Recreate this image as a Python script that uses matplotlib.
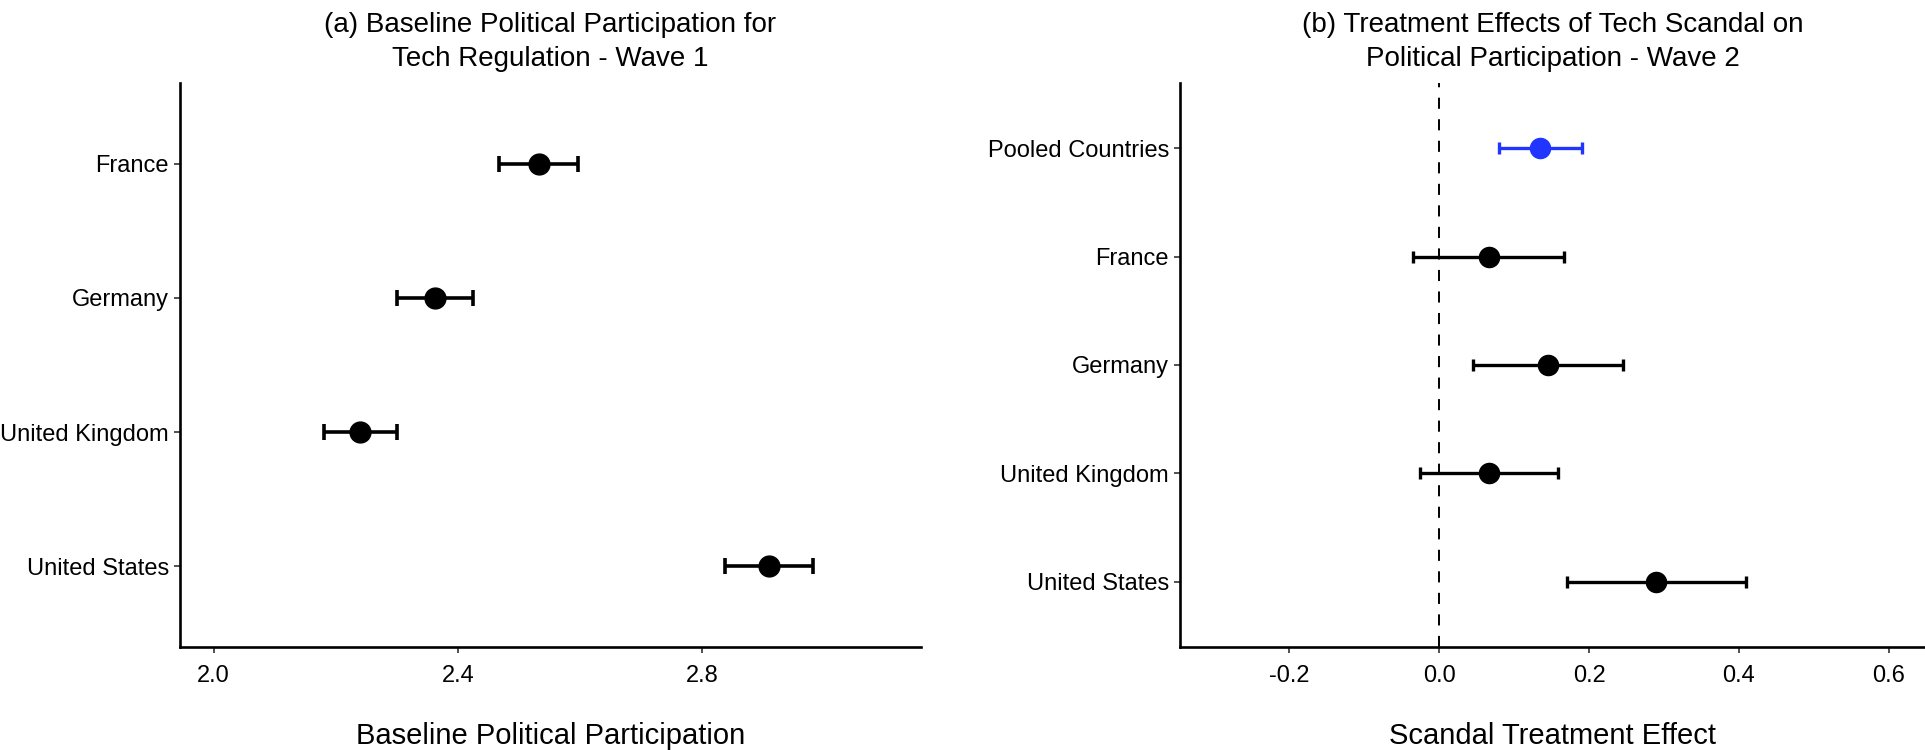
import numpy as np
import matplotlib
matplotlib.use("Agg")
import matplotlib.pyplot as plt

plt.rcParams['font.family'] = ['Liberation Sans', 'DejaVu Sans']
plt.rcParams['lines.scale_dashes'] = False

# panel (a): baseline participation, wave 1
countries_a = ["United States", "United Kingdom", "Germany", "France"]
base_est = [2.909, 2.240, 2.362, 2.532]
base_lo = [2.837, 2.180, 2.301, 2.468]
base_hi = [2.982, 2.300, 2.424, 2.596]

# panel (b): treatment effects, wave 2
countries_b = ["United States", "United Kingdom", "Germany", "France", "Pooled Countries"]
eff_est = [0.289, 0.066, 0.145, 0.066, 0.135]
eff_lo = [0.170, -0.026, 0.045, -0.035, 0.080]
eff_hi = [0.410, 0.159, 0.245, 0.167, 0.190]

blue = "#2035FF"

W, H = 1925, 750
fig = plt.figure(figsize=(W / 100, H / 100), dpi=100)
ax1 = fig.add_axes([180 / W, 1 - 647 / H, (921 - 180) / W, (647 - 83) / H])
ax2 = fig.add_axes([1180 / W, 1 - 647 / H, (1925 - 1180) / W, (647 - 83) / H])


def style(ax):
    for s in ["top", "right"]:
        ax.spines[s].set_visible(False)
    for s in ["left", "bottom"]:
        ax.spines[s].set_linewidth(1.9)
        ax.spines[s].set_color("black")
    ax.tick_params(axis="both", length=4, width=1.2, color="#333333",
                   labelsize=17, labelcolor="black")
    ax.tick_params(axis="x", pad=9)
    ax.tick_params(axis="y", pad=4)


# left panel
y1 = np.arange(1, len(countries_a) + 1)
est = np.array(base_est)
ax1.errorbar(est, y1, xerr=[est - np.array(base_lo), np.array(base_hi) - est],
             fmt="o", color="black", ms=15, elinewidth=2.6, capsize=5.6,
             capthick=2.6)
ax1.set_yticks(y1)
ax1.set_yticklabels(countries_a)
ax1.set_ylim(0.4, len(countries_a) + 0.6)
ax1.set_xlim(1.945, 3.158)
ax1.set_xticks([2.0, 2.4, 2.8])
ax1.set_xticklabels(["2.0", "2.4", "2.8"])
style(ax1)
ax1.set_xlabel("Baseline Political Participation", fontsize=21, labelpad=25)
ax1.set_title("(a) Baseline Political Participation for\nTech Regulation - Wave 1",
              fontsize=20, linespacing=1.42, pad=12)

# right panel
y2 = np.arange(1, len(countries_b) + 1)
est2 = np.array(eff_est)
err = [est2 - np.array(eff_lo), np.array(eff_hi) - est2]
ax2.axvline(0, color="black", lw=1.4, dashes=(8, 7.5), zorder=1)
for i in range(len(countries_b)):
    c = blue if countries_b[i] == "Pooled Countries" else "black"
    ax2.errorbar(est2[i], y2[i], xerr=[[err[0][i]], [err[1][i]]], fmt="o",
                 color=c, ms=14.5, elinewidth=2.4, capsize=4.6, capthick=2.4,
                 zorder=3)
ax2.set_yticks(y2)
ax2.set_yticklabels(countries_b)
ax2.get_yticklabels()[-1].set_color(blue)
ax2.set_ylim(0.4, len(countries_b) + 0.6)
ax2.set_xlim(-0.346, 0.6485)
ax2.set_xticks([-0.2, 0.0, 0.2, 0.4, 0.6])
ax2.set_xticklabels(["-0.2", "0.0", "0.2", "0.4", "0.6"])
style(ax2)
ax2.set_xlabel("Scandal Treatment Effect", fontsize=21, labelpad=25)
ax2.set_title("(b) Treatment Effects of Tech Scandal on\nPolitical Participation - Wave 2",
              fontsize=20, linespacing=1.42, pad=12)

fig.savefig("out.png", dpi=100)
